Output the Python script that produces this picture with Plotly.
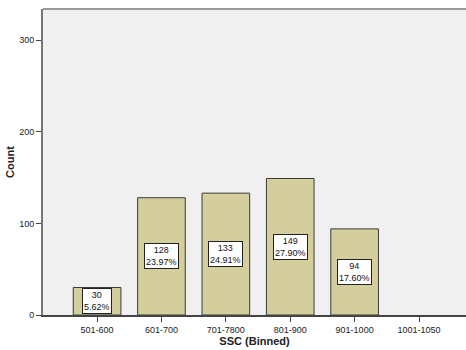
import plotly.graph_objects as go

categories = ["501-600", "601-700", "701-7800", "801-900", "901-1000", "1001-1050"]
counts = [30, 128, 133, 149, 94, 0]
percents = ["5.62%", "23.97%", "24.91%", "27.90%", "17.60%", ""]

# empty bins get no outline
outline_widths = [1 if v > 0 else 0 for v in counts]

fig = go.Figure()
fig.add_trace(go.Bar(
    x=categories,
    y=counts,
    marker=dict(color="#D3CE9B", line=dict(color="#3a3a3a", width=outline_widths)),
    hoverinfo="x+y",
))

# Boxed count / percent labels at mid-height of each bar
for c, v, p in zip(categories, counts, percents):
    if v <= 0:
        continue
    fig.add_annotation(
        x=c, y=v / 2, text=f"{v}<br>{p}", showarrow=False,
        font=dict(family="Arial, Liberation Sans, sans-serif", size=9, color="#111"),
        bgcolor="white", bordercolor="#222", borderwidth=1, borderpad=1,
    )

fig.update_layout(
    width=466, height=350,
    margin=dict(l=43, r=0, t=9, b=35),
    paper_bgcolor="white",
    plot_bgcolor="#F0F0F0",
    bargap=0.26,
    showlegend=False,
    font=dict(family="Arial, Liberation Sans, sans-serif", size=9, color="#222"),
)
fig.update_xaxes(
    range=[-0.84, 5.73],
    showline=True, linecolor="#444", linewidth=1.5, mirror=False,
    ticks="outside", ticklen=5, tickcolor="#444",
    showgrid=False,
    title=dict(text="<b>SSC (Binned)</b>", font=dict(size=11, color="#222"), standoff=4),
)
fig.update_yaxes(
    range=[0, 334],
    tickvals=[0, 100, 200, 300],
    showline=True, linecolor="#777", linewidth=2,
    ticks="outside", ticklen=5, tickcolor="#444",
    showgrid=False, zeroline=False,
    title=dict(text="<b>Count</b>", font=dict(size=11, color="#222"), standoff=2),
)
# top frame line
fig.add_shape(type="line", xref="paper", yref="paper", x0=0, x1=1, y0=1, y1=1,
              line=dict(color="#999", width=2))

fig.write_html("out.html")
